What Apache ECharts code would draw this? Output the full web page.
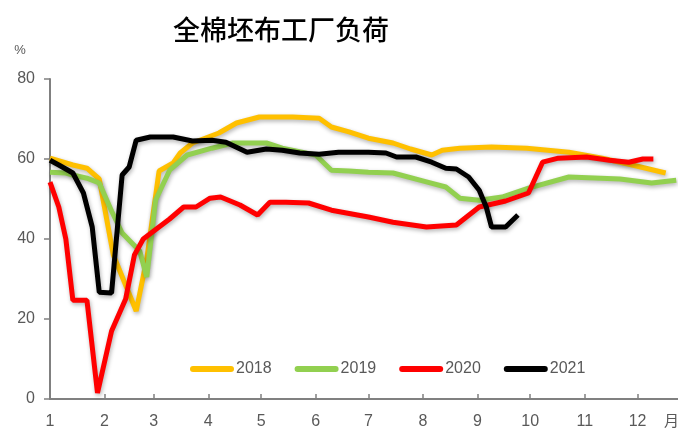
<!DOCTYPE html>
<html>
<head>
<meta charset="utf-8">
<script src="https://cdn.jsdelivr.net/npm/echarts@6/dist/echarts.min.js"></script>
<style>
  html, body { margin: 0; padding: 0; background: #fff; }
  #chart { width: 678px; height: 435px; }
</style>
</head>
<body>
<div id="chart"></div>
<script>
// Weekly loom load of all-cotton grey fabric mills (%), one line per year.
// Dates are month-day; all years share one calendar on the x axis.
const years = ['2018', '2019', '2020', '2021'];
const yTicks = [0, 20, 40, 60, 80];

const dates2018 = ['01-01','01-14','01-22','01-29','02-06','02-19','02-25','03-04','03-12','03-16','03-23','04-07','04-17','04-30','05-19','06-03','06-10','06-20','07-01','07-15','07-25','08-06','08-12','08-22','09-09','09-29','10-23','11-11','11-28','12-17'];
const load2018 = [60.2,58.5,57.7,55,36,22,35,57,59,61.5,64,66.5,69,70.5,70.5,70.2,68,66.8,65.2,64,62.5,61,62.2,62.7,63,62.7,61.7,60.2,58.5,56.5];

const dates2019 = ['01-01','01-10','01-14','01-22','01-29','02-05','02-11','02-15','02-21','02-25','03-02','03-10','03-20','04-03','04-15','05-04','05-13','06-01','06-10','06-20','07-01','07-15','08-03','08-14','08-22','09-02','09-15','09-30','10-23','11-21','12-09','12-23'];
const load2019 = [56.7,56.5,56,55.2,54,47,41.5,39.7,37,30.5,49.7,57.2,61,62.7,64,64,62.7,61,57.2,57,56.7,56.5,54.3,53,50.2,49.7,50.5,52.7,55.5,55,54,54.7];

const dates2020 = ['01-01','01-06','01-10','01-14','01-22','01-28','02-05','02-13','02-18','02-23','03-01','03-10','03-18','03-25','04-02','04-08','04-19','04-29','05-06','05-15','05-28','06-10','07-01','07-15','08-03','08-20','09-02','09-17','09-30','10-08','10-17','11-02','11-15','11-26','12-04','12-10'];
const load2020 = [54.2,48,40,24.7,24.7,1.5,17,25,36,40,42,45,48,48,50.2,50.5,48.5,46,49.2,49.2,49,47.2,45.5,44.2,43,43.5,48,49.5,51.5,59.2,60.2,60.5,59.7,59.2,60,60];

const dates2021 = ['01-01','01-06','01-14','01-20','01-25','01-29','02-05','02-11','02-15','02-19','02-27','03-12','03-23','04-03','04-11','04-23','05-04','05-13','05-23','06-03','06-14','07-01','07-11','07-17','07-28','08-06','08-14','08-20','08-27','09-02','09-06','09-09','09-17','09-24'];
const load2021 = [59.7,58.5,56.5,51.5,43,26.7,26.5,56,58,64.7,65.5,65.5,64.5,64.7,64.2,61.7,62.5,62.2,61.5,61.2,61.7,61.7,61.5,60.5,60.5,59.2,57.7,57.5,55.5,52.2,48,43,43,46];

const colors = ['#FFC000', '#92D050', '#FF0000', '#000000'];
const seriesDates = [dates2018, dates2019, dates2020, dates2021];
const seriesLoads = [load2018, load2019, load2020, load2021];

// Common calendar year used to place every year's points on the same axis.
const baseYear = '2021';
const toPoints = (dates, values) => dates.map((d, i) => [baseYear + '-' + d, values[i]]);

const labelColor = '#595959';
const axisColor = '#808080';
const latin = '"Liberation Sans", Arial, sans-serif';
const cjk = '"Noto Sans CJK SC", sans-serif';

const chart = echarts.init(document.getElementById('chart'));

chart.setOption({
  animation: false,
  backgroundColor: '#ffffff',
  title: {
    text: '全棉坯布工厂负荷',
    left: 168,
    top: 11,
    textStyle: { fontFamily: cjk, fontSize: 27, fontWeight: 500, color: '#000' }
  },
  legend: {
    data: years,
    left: 185,
    top: 356,
    itemWidth: 44,
    itemHeight: 6,
    itemGap: 23,
    icon: 'path://M3,0H41A3,3,0,0,1,41,6H3A3,3,0,0,1,3,0Z',
    textStyle: { fontFamily: latin, fontSize: 16, color: labelColor, padding: [0, 0, 0, -3] }
  },
  grid: { left: 50, right: 0, top: 79, bottom: 36, containLabel: false },
  xAxis: {
    type: 'time',
    min: baseYear + '-01-01',
    max: baseYear + '-12-24',
    splitNumber: 12,
    minInterval: 28 * 86400000,
    maxInterval: 31 * 86400000,
    axisLine: { lineStyle: { color: axisColor, width: 2 } },
    axisTick: { show: true, inside: true, length: 5, lineStyle: { color: axisColor, width: 1.5 } },
    splitLine: { show: false },
    axisLabel: {
      margin: 15,
      color: labelColor,
      fontFamily: latin,
      fontSize: 16,
      hideOverlap: false,
      showMaxLabel: false,
      formatter: function (v) {
        const d = new Date(v);
        return d.getDate() === 1 ? String(d.getMonth() + 1) : '';
      }
    }
  },
  yAxis: {
    type: 'value',
    min: yTicks[0],
    max: yTicks[yTicks.length - 1],
    interval: yTicks[1] - yTicks[0],
    name: '%',
    nameLocation: 'end',
    nameGap: 22,
    nameTextStyle: { color: labelColor, fontFamily: latin, fontSize: 13, align: 'center', padding: [0, 60, 0, 0] },
    axisLine: { show: true, lineStyle: { color: axisColor, width: 2 } },
    axisTick: { show: true, inside: false, length: 6, lineStyle: { color: axisColor, width: 1.5 } },
    splitLine: { show: false },
    axisLabel: { margin: 15, color: labelColor, fontFamily: latin, fontSize: 16 }
  },
  graphic: [{
    type: 'text',
    left: 664,
    top: 413,
    style: { text: '月', fill: labelColor, font: '15px ' + cjk }
  }],
  series: years.map((name, i) => ({
    name: name,
    type: 'line',
    data: toPoints(seriesDates[i], seriesLoads[i]),
    showSymbol: false,
    symbol: 'none',
    itemStyle: { color: colors[i] },
    lineStyle: {
      color: colors[i],
      width: 5,
      shadowColor: 'rgba(0,0,0,0.3)',
      shadowBlur: 4,
      shadowOffsetX: 1,
      shadowOffsetY: 2
    },
    z: 2 + i
  }))
});
</script>
</body>
</html>
